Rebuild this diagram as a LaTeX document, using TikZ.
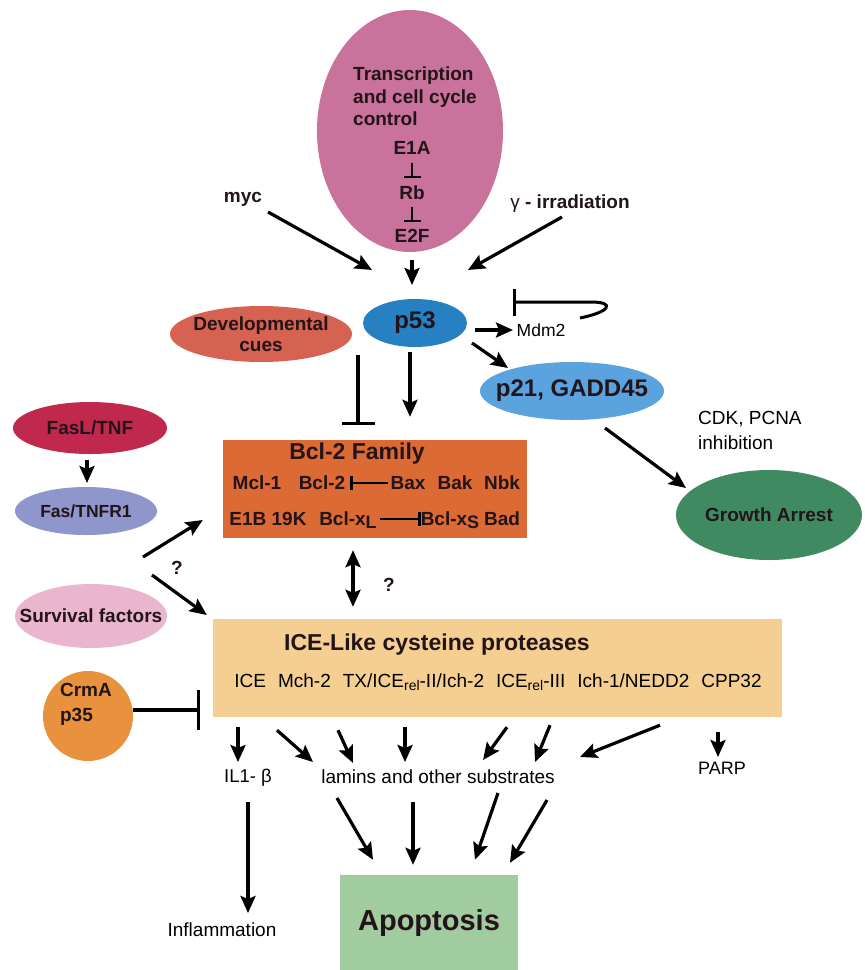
\documentclass[tikz,border=0pt]{standalone}
\usepackage{fontspec}
\setmainfont{Liberation Sans}
\usetikzlibrary{shapes.geometric,arrows.meta}
\definecolor{tccpink}{RGB}{201,115,156}
\definecolor{devred}{RGB}{214,98,82}
\definecolor{p53blue}{RGB}{38,128,194}
\definecolor{p21blue}{RGB}{90,163,222}
\definecolor{growgreen}{RGB}{64,138,98}
\definecolor{faslred}{RGB}{192,40,78}
\definecolor{fasblue}{RGB}{142,150,204}
\definecolor{survpink}{RGB}{234,182,206}
\definecolor{crmaorange}{RGB}{232,146,62}
\definecolor{bclorange}{RGB}{219,106,52}
\definecolor{icetan}{RGB}{245,206,146}
\definecolor{apopgreen}{RGB}{160,204,160}
\definecolor{inkdark}{RGB}{35,20,25}
\newcommand\lowsub[2][14]{\raisebox{-0.35ex}{\fontsize{#1}{#1}\selectfont #2}}

\begin{document}
\begin{tikzpicture}[
  x=1pt, y=-1pt,
  blob/.style={ellipse, inner sep=0pt},
  btxt/.style={inner sep=0pt, text=inkdark, align=center,
    font=\fontsize{19}{21}\selectfont\bfseries},
  box/.style={rectangle, inner sep=0pt},
  bold/.style={inner sep=0pt, text=inkdark, font=\fontsize{19}{22.5}\selectfont\bfseries},
  plain/.style={inner sep=0pt, font=\fontsize{19}{25}\selectfont},
  arr/.style={line width=3.2pt, -{Stealth[length=17pt,width=15pt,inset=3pt]}},
  darr/.style={line width=3.2pt,
    {Stealth[length=17pt,width=15pt,inset=3pt]}-{Stealth[length=17pt,width=15pt,inset=3pt]}},
  inh/.style={line width=3.2pt, -{Bar[width=#1]}},
  inh/.default=32pt,
]
\useasboundingbox (0,0) rectangle (865,970);

\node[blob, fill=tccpink, minimum width=186, minimum height=242] (tcc) at (410,131) {};
\node[bold, align=left, anchor=north west] (tcctxt) at (353,67) {Transcription\\and cell cycle\\control};
\node[bold] (e1a) at (412,148) {E1A};
\node[bold] (rb) at (412,193) {Rb};
\node[bold] (e2f) at (412,236) {E2F};
\draw[inh=17pt, line width=2.2pt] ([shift={(0,8)}]e1a.south) -- ([shift={(0,-8)}]rb.north);
\draw[inh=17pt, line width=2.2pt] ([shift={(0,7)}]rb.south) -- ([shift={(0,-7)}]e2f.north);

\node[bold] (myc) at (243,199) {myc};
\node[bold] (gamma) at (570,204) {{\mdseries γ} - irradiation};

\node[blob, fill=p53blue, minimum width=104, minimum height=48,
  label={[btxt, font=\fontsize{24}{24}\selectfont\bfseries]center:p53}] (p53) at (415,323) {};
\node[blob, fill=devred, minimum width=182, minimum height=56,
  label={[btxt]center:Developmental\\cues}] (dev) at (261,334) {};
\node[plain, font=\fontsize{17.5}{20}\selectfont] (mdm2) at (541,330) {Mdm2};
\node[blob, fill=p21blue, minimum width=184, minimum height=58,
  label={[btxt, font=\fontsize{24}{24}\selectfont\bfseries]center:p21, GADD45}] (p21) at (572,391) {};
\node[blob, fill=growgreen, minimum width=186, minimum height=90,
  label={[btxt]center:Growth Arrest}] (growth) at (769,515) {};
\node[plain, align=left, anchor=north west] (cdk) at (698,411) {CDK, PCNA\\inhibition};

\node[blob, fill=faslred, minimum width=154, minimum height=52,
  label={[btxt]center:FasL/TNF}] (fasl) at (90,428) {};
\node[blob, fill=fasblue, minimum width=142, minimum height=48,
  label={[btxt, font=\fontsize{17.5}{20}\selectfont\bfseries]center:Fas/TNFR1}] (fas) at (86,511) {};
\node[blob, fill=survpink, minimum width=152, minimum height=64,
  label={[btxt]center:Survival factors}] (surv) at (91,616) {};
\node[blob, circle, fill=crmaorange, minimum size=90] (crma) at (88,716) {};
\node[bold, align=left, font=\fontsize{19}{25}\selectfont\bfseries] (crmatxt) at (86,704) {CrmA\\p35};

\node[box, fill=bclorange, minimum width=304, minimum height=98] (bcl) at (375,489) {};
\node[bold, font=\fontsize{23}{23}\selectfont\bfseries] (bcltitle) at (357,454) {Bcl-2 Family};
\node[bold, anchor=base] (mcl) at (257,489) {Mcl-1};
\node[bold, anchor=base] (bcl2) at (322,489) {Bcl-2};
\node[bold, anchor=base] (bax) at (408,489) {Bax};
\node[bold, anchor=base] (bak) at (455,489) {Bak};
\node[bold, anchor=base] (nbk) at (502,489) {Nbk};
\node[bold, anchor=base] (e1b) at (268,525) {E1B 19K};
\node[bold, anchor=base] (bclxl) at (348,525) {Bcl-x\lowsub[18]{L}};
\node[bold, anchor=base] (bclxs) at (450,525) {Bcl-x\lowsub[18]{S}};
\node[bold, anchor=base] (bad) at (502,525) {Bad};
\draw[inh=14pt, line width=2.6pt] ([shift={(-2,-6)}]bax.base west) -- ([shift={(5,-6)}]bcl2.base east);
\draw[inh=14pt, line width=2.6pt] ([shift={(3,-6)}]bclxl.base east) -- ([shift={(0,-6)}]bclxs.base west);

\node[box, fill=icetan, minimum width=569, minimum height=98] (ice) at (497.5,668) {};
\node[bold, font=\fontsize{23}{23}\selectfont\bfseries] (icetitle) at (437,645) {ICE-Like cysteine proteases};
\node[plain, anchor=base, font=\fontsize{19}{20}\selectfont] (icerow) at (498,687)
  {ICE\hspace{12pt}Mch-2\hspace{12pt}TX/ICE\lowsub{rel}-II/Ich-2\hspace{12pt}ICE\lowsub{rel}-III\hspace{12pt}Ich-1/NEDD2\hspace{12pt}CPP32};

\node[plain, font=\fontsize{18.5}{20}\selectfont] (il1b) at (248,778) {IL1- β};
\node[plain] (lamins) at (438,777) {lamins and other substrates};
\node[plain, font=\fontsize{18}{20}\selectfont] (parp) at (722,768) {PARP};
\node[plain] (inflam) at (222,930) {Inflammation};
\node[box, fill=apopgreen, minimum width=178, minimum height=95, text=inkdark,
  font=\fontsize{29}{29}\selectfont\bfseries] (apop) at (429,922.5) {Apoptosis};

\node[bold] (q1) at (177,568) {?};
\node[bold] (q2) at (389,585) {?};

\draw[arr] ([shift={(0,24)}]e2f.center) -- ([shift={(-3,-38)}]p53.center);
\draw[arr] ([shift={(25,13)}]myc.center) -- ([shift={(-43,-53)}]p53.center);
\draw[arr] ([shift={(-8,13)}]gamma.center) -- ([shift={(53,-53)}]p53.center);
\draw[arr] ([shift={(60,7)}]p53.center) -- ([shift={(-28,0)}]mdm2.center);
\draw[inh=27pt, line width=3pt] ([shift={(39,-12)}]mdm2.center) .. controls +(30,-6) and +(25,0) ..
  ([shift={(50,-28)}]mdm2.center) -- ([shift={(-28,-28)}]mdm2.center);
\draw[arr] ([shift={(57,20)}]p53.center) -- ([shift={(-64,-23)}]p21.center);
\draw[arr] ([shift={(33,37)}]p21.center) -- ([shift={(-83,-27)}]growth.center);
\draw[arr] ([shift={(-5,29)}]p53.center) -- ([shift={(35,-23)}]bcl.north);
\draw[inh=33pt] ([shift={(97,21)}]dev.center) -- ([shift={(-17,-15)}]bcl.north);

\draw[arr] ([shift={(-3,32)}]fasl.center) -- ([shift={(1,-28)}]fas.center);
\draw[arr] ([shift={(57,46)}]fas.center) -- ([shift={(-20,31)}]bcl.west);
\draw[arr] ([shift={(66,64)}]fas.center) -- ([shift={(-6,-53)}]ice.west);
\draw[inh=40pt] ([shift={(45,-6)}]crma.center) -- ([shift={(-13,42)}]ice.west);
\draw[darr] ([shift={(-22,12)}]bcl.south) -- ([shift={(-144.5,-12)}]ice.north);

\draw[arr] ([shift={(-259.5,10)}]ice.south) -- ([shift={(-10,-16)}]il1b.center);
\foreach \sx/\sy/\ex/\ey in {-220.5/13/-125/-15, -159.5/13/-85/-14, -92.5/10/-33/-15,
    9.5/10/45/-17, 52.5/8/97/-15, 162.5/8/142/-20}
  \draw[arr] ([shift={(\sx,\sy)}]ice.south) -- ([shift={(\ex,\ey)}]lamins.center);
\draw[arr] ([shift={(220.5,15)}]ice.south) -- ([shift={(-4,-11)}]parp.center);
\draw[arr] ([shift={(0,24)}]il1b.center) -- ([shift={(26,-17)}]inflam.center);
\foreach \sx/\sy/\ex/\ey in {-101/21/-56/-15, -25/25/-16/-10, 60/16/46/-15, 109/23/81/-12}
  \draw[arr] ([shift={(\sx,\sy)}]lamins.center) -- ([shift={(\ex,\ey)}]apop.north);
\end{tikzpicture}
\end{document}
